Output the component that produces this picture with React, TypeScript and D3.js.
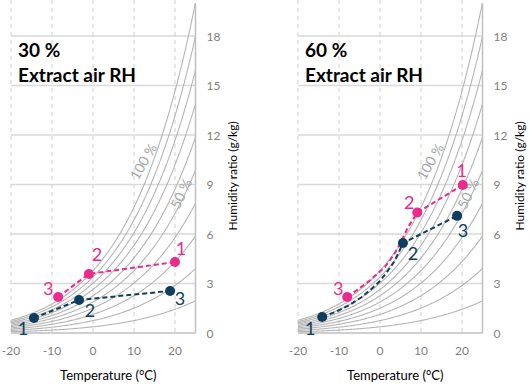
import React from "react";
import * as d3 from "d3";

// Relative humidity levels drawn as psychrometric curves (%)
const rhLevels = [10, 20, 30, 40, 50, 60, 70, 80, 90, 100];

// Axis ticks
const xTicks = [-20, -10, 0, 10, 20];
const yTicks = [0, 3, 6, 9, 12, 15, 18];

// Panel titles
const panelTitles = ["30 %", "60 %"];
const subTitle = "Extract air RH";

// 30 % extract air RH: supply-side (pink) and exhaust-side (navy) states
const pink30 = [
  { t: -8.5, w: 2.18, id: "3" },
  { t: -1.0, w: 3.58, id: "2" },
  { t: 20.0, w: 4.3, id: "1" },
];
const navy30 = [
  { t: -14.4, w: 0.91, id: "1" },
  { t: -3.4, w: 2.0, id: "2" },
  { t: 18.8, w: 2.55, id: "3" },
];

// 60 % extract air RH: paths bend along the saturation region (unlabelled vertices have no id)
const pink60 = [
  { t: -8.0, w: 2.18, id: "3" },
  { t: -4.8, w: 2.75, id: "" },
  { t: -2.4, w: 3.2, id: "" },
  { t: 1.2, w: 4.0, id: "" },
  { t: 3.4, w: 4.75, id: "" },
  { t: 4.9, w: 5.4, id: "" },
  { t: 6.8, w: 6.4, id: "" },
  { t: 9.1, w: 7.3, id: "2" },
  { t: 20.2, w: 8.97, id: "1" },
];
const navy60 = [
  { t: -14.1, w: 0.97, id: "1" },
  { t: -10.6, w: 1.3, id: "" },
  { t: -7.3, w: 1.72, id: "" },
  { t: -4.6, w: 2.15, id: "" },
  { t: -2.4, w: 2.6, id: "" },
  { t: 0.0, w: 3.15, id: "" },
  { t: 2.0, w: 3.8, id: "" },
  { t: 3.4, w: 4.3, id: "" },
  { t: 4.5, w: 4.85, id: "" },
  { t: 5.6, w: 5.45, id: "2" },
  { t: 18.8, w: 7.1, id: "3" },
];

// Label offsets (px) for the numbered states, keyed by id
const pinkLabelOff30: Record<string, [number, number]> = { "1": [6, -14], "2": [8, -20], "3": [-10, -9] };
const navyLabelOff30: Record<string, [number, number]> = { "1": [-11, 10], "2": [11, 10], "3": [10, 7] };
const pinkLabelOff60: Record<string, [number, number]> = { "1": [-1, -15], "2": [-8, -11], "3": [-9, -9] };
const navyLabelOff60: Record<string, [number, number]> = { "1": [-12, 11], "2": [10, 10], "3": [6, 14] };

const PINK = "#EC2A8E";
const NAVY = "#0F3D5E";
const FONT = "Lato, 'Open Sans', sans-serif";

// Humidity ratio (g/kg) at temperature t (°C) and relative humidity rh (%)
function humidityRatio(t: number, rh: number) {
  const es = 0.61094 * Math.exp((17.625 * t) / (t + 243.04)); // kPa
  const pw = (rh / 100) * es;
  return (622 * pw) / (101.325 - pw);
}

const x = d3.scaleLinear().domain([-20, 25]).range([11, 195.5]);
const y = d3.scaleLinear().domain([0, 20]).range([333, 3]);

type Pt = { t: number; w: number; id: string };

function Panel({
  idx,
  title,
  pink,
  navy,
  pinkOff,
  navyOff,
}: {
  idx: number;
  title: string;
  pink: Pt[];
  navy: Pt[];
  pinkOff: Record<string, [number, number]>;
  navyOff: Record<string, [number, number]>;
}) {
  const temps = d3.range(-20, 25.01, 0.25);
  const seriesLine = d3
    .line<Pt>()
    .x((d) => x(d.t))
    .y((d) => y(d.w));
  const clipId = `plot-clip-${idx}`;
  const [x0, x1] = x.range();
  const [yb, yt] = y.range();

  const series = (data: Pt[], color: string, off: Record<string, [number, number]>) => (
    <g>
      <path
        d={seriesLine(data) || ""}
        fill="none"
        stroke={color}
        strokeWidth={2}
        strokeDasharray="5,3"
        strokeLinejoin="round"
      />
      {data
        .filter((d) => d.id)
        .map((d) => (
          <g key={d.id}>
            <circle cx={x(d.t)} cy={y(d.w)} r={5} fill={color} />
            <text
              x={x(d.t) + off[d.id][0]}
              y={y(d.w) + off[d.id][1]}
              fill={color}
              fontSize={18}
              fontFamily={FONT}
              textAnchor="middle"
              dominantBaseline="central"
            >
              {d.id}
            </text>
          </g>
        ))}
    </g>
  );

  return (
    <g>
      <defs>
        <clipPath id={clipId}>
          <rect x={x0} y={yt} width={x1 - x0} height={yb - yt} />
        </clipPath>
      </defs>
      {/* horizontal gridlines */}
      {yTicks
        .filter((v) => v > 0)
        .map((v) => (
          <line key={`h${v}`} x1={x0} x2={x1} y1={y(v)} y2={y(v)} stroke="#d9d9d9" strokeWidth={1.5} />
        ))}
      {/* vertical dashed gridlines */}
      {xTicks.map((v) => (
        <line
          key={`v${v}`}
          x1={x(v)}
          x2={x(v)}
          y1={0}
          y2={yb}
          stroke="#cfcfcf"
          strokeWidth={1}
          strokeDasharray="4,4"
        />
      ))}
      {/* relative humidity curves */}
      <g clipPath={`url(#${clipId})`}>
        {rhLevels.map((rh) => (
          <path
            key={rh}
            d={
              d3
                .line<number>()
                .x((t) => x(t))
                .y((t) => y(humidityRatio(t, rh)))(temps) || ""
            }
            fill="none"
            stroke="#b5b5b5"
            strokeWidth={1.1}
          />
        ))}
      </g>
      {/* axes */}
      <line x1={x0} x2={x1} y1={yb} y2={yb} stroke="#bfbfbf" strokeWidth={1.5} />
      <line x1={x1} x2={x1} y1={yt} y2={yb} stroke="#bfbfbf" strokeWidth={1.5} />
      {yTicks.map((v) => (
        <text
          key={`yt${v}`}
          x={x1 + 11}
          y={y(v)}
          fill="#7f7f7f"
          fontSize={12}
          fontFamily={FONT}
          dominantBaseline="central"
        >
          {v}
        </text>
      ))}
      {xTicks.map((v) => (
        <text
          key={`xt${v}`}
          x={x(v)}
          y={yb + 17}
          fill="#7f7f7f"
          fontSize={12}
          fontFamily={FONT}
          textAnchor="middle"
          dominantBaseline="central"
        >
          {v}
        </text>
      ))}
      <text
        x={(x0 + x1) / 2 + 5}
        y={380}
        fontSize={13}
        fontFamily={FONT}
        textAnchor="middle"
        fill="#000"
      >
        Temperature (°C)
      </text>
      <text
        transform={`translate(${x1 + 41.5},176) rotate(-90)`}
        fontSize={12}
        fontFamily={FONT}
        textAnchor="middle"
        fill="#000"
      >
        Humidity ratio (g/kg)
      </text>
      {/* curve labels */}
      <text
        transform={`translate(${x(12.2)},${y(10.4)}) rotate(-60)`}
        fontSize={14}
        fontFamily={FONT}
        fill="#a6a6a6"
        textAnchor="middle"
        dominantBaseline="central"
      >
        100 %
      </text>
      <text
        transform={`translate(${x(21.4)},${y(8.45)}) rotate(-64)`}
        fontSize={14}
        fontFamily={FONT}
        fill="#a6a6a6"
        textAnchor="middle"
        dominantBaseline="central"
      >
        50 %
      </text>
      {/* titles */}
      <text x={x0 + 7} y={57} fontSize={19} fontWeight="bold" fontFamily={FONT} fill="#000">
        {title}
      </text>
      <text x={x0 + 7} y={82} fontSize={19} fontWeight="bold" fontFamily={FONT} fill="#000">
        {subTitle}
      </text>
      {series(pink, PINK, pinkOff)}
      {series(navy, NAVY, navyOff)}
    </g>
  );
}

export default function App() {
  return (
    <svg
      width={529}
      height={384}
      style={{ position: "absolute", left: 0, top: 0, background: "#fff" }}
    >
      <Panel idx={0} title={panelTitles[0]} pink={pink30} navy={navy30} pinkOff={pinkLabelOff30} navyOff={navyLabelOff30} />
      <g transform="translate(287,0)">
        <Panel idx={1} title={panelTitles[1]} pink={pink60} navy={navy60} pinkOff={pinkLabelOff60} navyOff={navyLabelOff60} />
      </g>
    </svg>
  );
}
